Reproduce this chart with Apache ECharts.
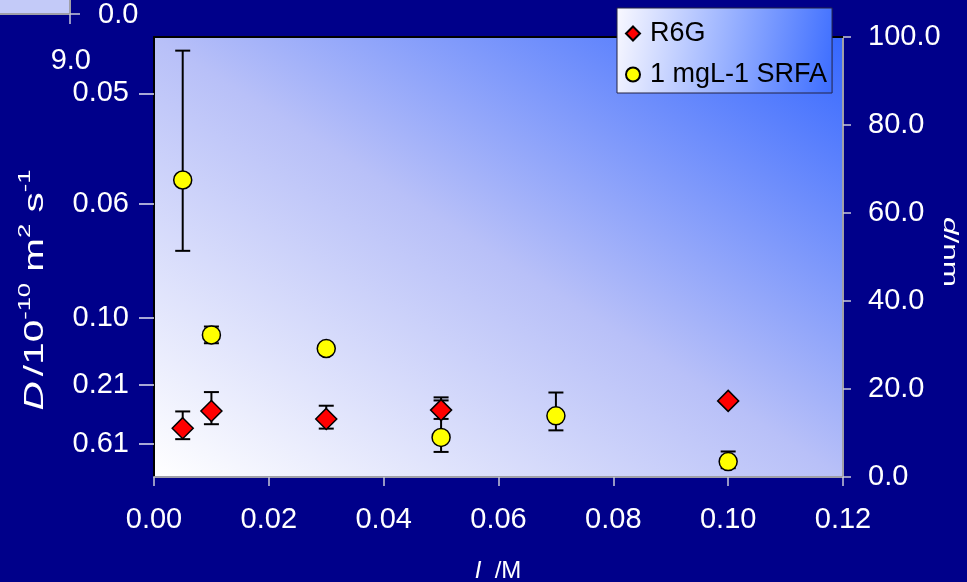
<!DOCTYPE html>
<html>
<head>
<meta charset="utf-8">
<script src="https://cdn.jsdelivr.net/npm/echarts@6/dist/echarts.min.js"></script>
<style>
  html, body { margin: 0; padding: 0; background: #00008a; }
  #chart { width: 967px; height: 582px; }
</style>
</head>
<body>
<div id="chart"></div>
<script>
// Ionic strength I (M) and hydrodynamic diameter d (nm) with asymmetric error bars
const r6gIonic   = [0.005, 0.01, 0.03, 0.05, 0.10];
const r6gSize    = [11.1, 15.0, 13.2, 15.2, 17.3];
const r6gErrUp   = [3.8, 4.3, 3.0, 2.9, 0.5];
const r6gErrDown = [2.5, 3.0, 2.2, 2.0, 0.5];

const srfaIonic   = [0.005, 0.01, 0.03, 0.05, 0.07, 0.10];
const srfaSize    = [67.5, 32.3, 29.2, 9.0, 13.9, 3.5];
const srfaErrUp   = [29.4, 1.9, 1.0, 8.4, 5.3, 2.3];
const srfaErrDown = [16.1, 1.9, 1.0, 3.3, 3.3, 1.5];

// Diffusion coefficient labels on the left axis, placed at the matching diameter
const diffusionTickAt     = [87.2, 62.0, 36.1, 20.9, 7.6];
const diffusionTickLabels = ['0.05', '0.06', '0.10', '0.21', '0.61'];

const seriesNames = ['R6G', '1 mgL-1 SRFA'];

const FONT = '"Liberation Sans", Arial, Helvetica, sans-serif';
const WHITE = '#ffffff';
const TICK_FONT = 29;

function errorBars(xs, ys, up, down) {
  return {
    type: 'custom',
    xAxisIndex: 0,
    yAxisIndex: 0,
    silent: true,
    z: 1,
    encode: { x: 0, y: [1, 2] },
    data: xs.map((x, i) => [x, ys[i] - down[i], ys[i] + up[i]]),
    renderItem(params, api) {
      const x = api.value(0);
      const lo = api.coord([x, api.value(1)]);
      const hi = api.coord([x, api.value(2)]);
      const hw = 7.5;
      const st = { stroke: '#000', lineWidth: 2 };
      return {
        type: 'group',
        children: [
          { type: 'line', shape: { x1: lo[0], y1: lo[1], x2: hi[0], y2: hi[1] }, style: st },
          { type: 'line', shape: { x1: lo[0] - hw, y1: lo[1], x2: lo[0] + hw, y2: lo[1] }, style: st },
          { type: 'line', shape: { x1: hi[0] - hw, y1: hi[1], x2: hi[0] + hw, y2: hi[1] }, style: st }
        ]
      };
    }
  };
}

const chart = echarts.init(document.getElementById('chart'), null, { renderer: 'canvas' });

const plotFill = new echarts.graphic.LinearGradient(0, 1, 0.579, -0.421, [
  { offset: 0, color: '#ffffff' },
  { offset: 0.5, color: '#b8c0f8' },
  { offset: 1, color: '#3567ff' }
]);

const legendFill = new echarts.graphic.LinearGradient(0, 0.3, 1, 0.7, [
  { offset: 0, color: '#f6f6ff' },
  { offset: 1, color: '#3f6fff' }
]);

chart.setOption({
  backgroundColor: '#00008a',
  animation: false,
  textStyle: { fontFamily: FONT },
  grid: {
    left: 154, top: 37, width: 689, height: 440,
    show: true, backgroundColor: plotFill, borderWidth: 0,
    containLabel: false, outerBoundsMode: 'none'
  },
  legend: {
    data: seriesNames,
    orient: 'vertical',
    left: 617, top: 8,
    padding: [12, 5, 5, 8],
    itemGap: 14,
    itemWidth: 14, itemHeight: 14,
    backgroundColor: legendFill,
    borderColor: '#222244', borderWidth: 1,
    textStyle: { fontSize: 27, color: '#000', fontFamily: FONT, padding: [0, 0, 0, 5] }
  },
  xAxis: [
    {
      type: 'value', position: 'bottom', min: 0, max: 0.12, interval: 0.02,
      splitLine: { show: false },
      axisLine: { show: true, onZero: false, lineStyle: { color: '#a0a0a8', width: 2 } },
      axisTick: { show: true, length: 9, lineStyle: { color: '#c8c8d8', width: 1.5 } },
      axisLabel: { color: WHITE, fontSize: TICK_FONT, margin: 28, formatter: v => v.toFixed(2) }
    },
    {
      type: 'value', position: 'top', min: 0, max: 0.12,
      splitLine: { show: false },
      axisLine: { show: true, onZero: false, lineStyle: { color: '#000', width: 2 } },
      axisTick: { show: false },
      axisLabel: { show: false }
    }
  ],
  yAxis: [
    {
      type: 'value', position: 'right', min: 0, max: 100, interval: 20,
      splitLine: { show: false },
      axisLine: { show: true, onZero: false, lineStyle: { color: '#a0a0a8', width: 2 } },
      axisTick: { show: true, length: 8, lineStyle: { color: '#c8c8d8', width: 1.5 } },
      axisLabel: { color: WHITE, fontSize: TICK_FONT, margin: 25, formatter: v => v.toFixed(1) }
    },
    {
      type: 'value', position: 'left', min: 0, max: 100,
      splitLine: { show: false },
      axisLine: { show: true, onZero: false, lineStyle: { color: '#000', width: 2 } },
      axisTick: { show: true, length: 15, customValues: diffusionTickAt, lineStyle: { color: '#e0e0f0', width: 1.5 } },
      axisLabel: {
        color: WHITE, fontSize: TICK_FONT, margin: 25,
        customValues: diffusionTickAt,
        formatter: v => {
          let best = 0;
          diffusionTickAt.forEach((t, i) => { if (Math.abs(t - v) < Math.abs(diffusionTickAt[best] - v)) best = i; });
          return diffusionTickLabels[best];
        }
      }
    }
  ],
  series: [
    errorBars(r6gIonic, r6gSize, r6gErrUp, r6gErrDown),
    errorBars(srfaIonic, srfaSize, srfaErrUp, srfaErrDown),
    {
      name: seriesNames[0], type: 'scatter', xAxisIndex: 0, yAxisIndex: 0, z: 3,
      symbol: 'diamond', symbolSize: 21,
      itemStyle: { color: '#ff0000', borderColor: '#000', borderWidth: 1.5, opacity: 1 },
      data: r6gIonic.map((x, i) => [x, r6gSize[i]])
    },
    {
      name: seriesNames[1], type: 'scatter', xAxisIndex: 0, yAxisIndex: 0, z: 3,
      symbol: 'circle', symbolSize: 18,
      itemStyle: { color: '#ffff00', borderColor: '#000', borderWidth: 1.5, opacity: 1 },
      data: srfaIonic.map((x, i) => [x, srfaSize[i]])
    }
  ],
  graphic: [
    // corner fragment of a neighbouring panel in the upper left
    { type: 'rect', shape: { x: 0, y: 0, width: 70, height: 14 }, style: { fill: '#c3caf8' }, silent: true },
    { type: 'line', shape: { x1: 0, y1: 14, x2: 70, y2: 14 }, style: { stroke: '#a0a0a8', lineWidth: 2 }, silent: true },
    { type: 'line', shape: { x1: 70, y1: 0, x2: 70, y2: 14 }, style: { stroke: '#a0a0a8', lineWidth: 2 }, silent: true },
    { type: 'line', shape: { x1: 70, y1: 14, x2: 80, y2: 14 }, style: { stroke: '#c8c8d8', lineWidth: 1.5 }, silent: true },
    { type: 'line', shape: { x1: 70, y1: 14, x2: 70, y2: 24 }, style: { stroke: '#c8c8d8', lineWidth: 1.5 }, silent: true },
    { type: 'text', x: 98, y: 15, silent: true,
      style: { text: '0.0', fill: WHITE, font: TICK_FONT + 'px ' + FONT, align: 'left', verticalAlign: 'middle' } },
    { type: 'text', x: 91, y: 61, silent: true,
      style: { text: '9.0', fill: WHITE, font: TICK_FONT + 'px ' + FONT, align: 'right', verticalAlign: 'middle' } },
    // left axis title
    { type: 'text', x: 33, y: 290, rotation: Math.PI / 2, scaleX: 1.5, silent: true,
      style: {
        text: '{it|D} {n|/10}{sup|-10}{n| m}{sup|2}{n| s}{sup|-1}',
        align: 'center', verticalAlign: 'middle', fill: WHITE,
        rich: {
          it: { fontSize: 27, fontStyle: 'italic', fontFamily: FONT, color: WHITE, lineHeight: 32, verticalAlign: 'bottom' },
          n: { fontSize: 27, fontFamily: FONT, color: WHITE, lineHeight: 32, verticalAlign: 'bottom' },
          sup: { fontSize: 17, fontFamily: FONT, color: WHITE, lineHeight: 17, verticalAlign: 'top' }
        }
      } },
    // right axis title
    { type: 'text', x: 950, y: 252, rotation: -Math.PI / 2, scaleX: 1.5, silent: true,
      style: {
        text: '{it|d}{n|/nm}',
        align: 'center', verticalAlign: 'middle', fill: WHITE,
        rich: {
          it: { fontSize: 21, fontStyle: 'italic', fontFamily: FONT, color: WHITE },
          n: { fontSize: 21, fontFamily: FONT, color: WHITE }
        }
      } },
    // x axis title
    { type: 'text', x: 498, y: 571, silent: true,
      style: {
        text: '{it|I}{n|  /M}',
        align: 'center', verticalAlign: 'middle', fill: WHITE,
        rich: {
          it: { fontSize: 24, fontStyle: 'italic', fontFamily: FONT, color: WHITE },
          n: { fontSize: 24, fontFamily: FONT, color: WHITE }
        }
      } }
  ]
});
</script>
</body>
</html>
